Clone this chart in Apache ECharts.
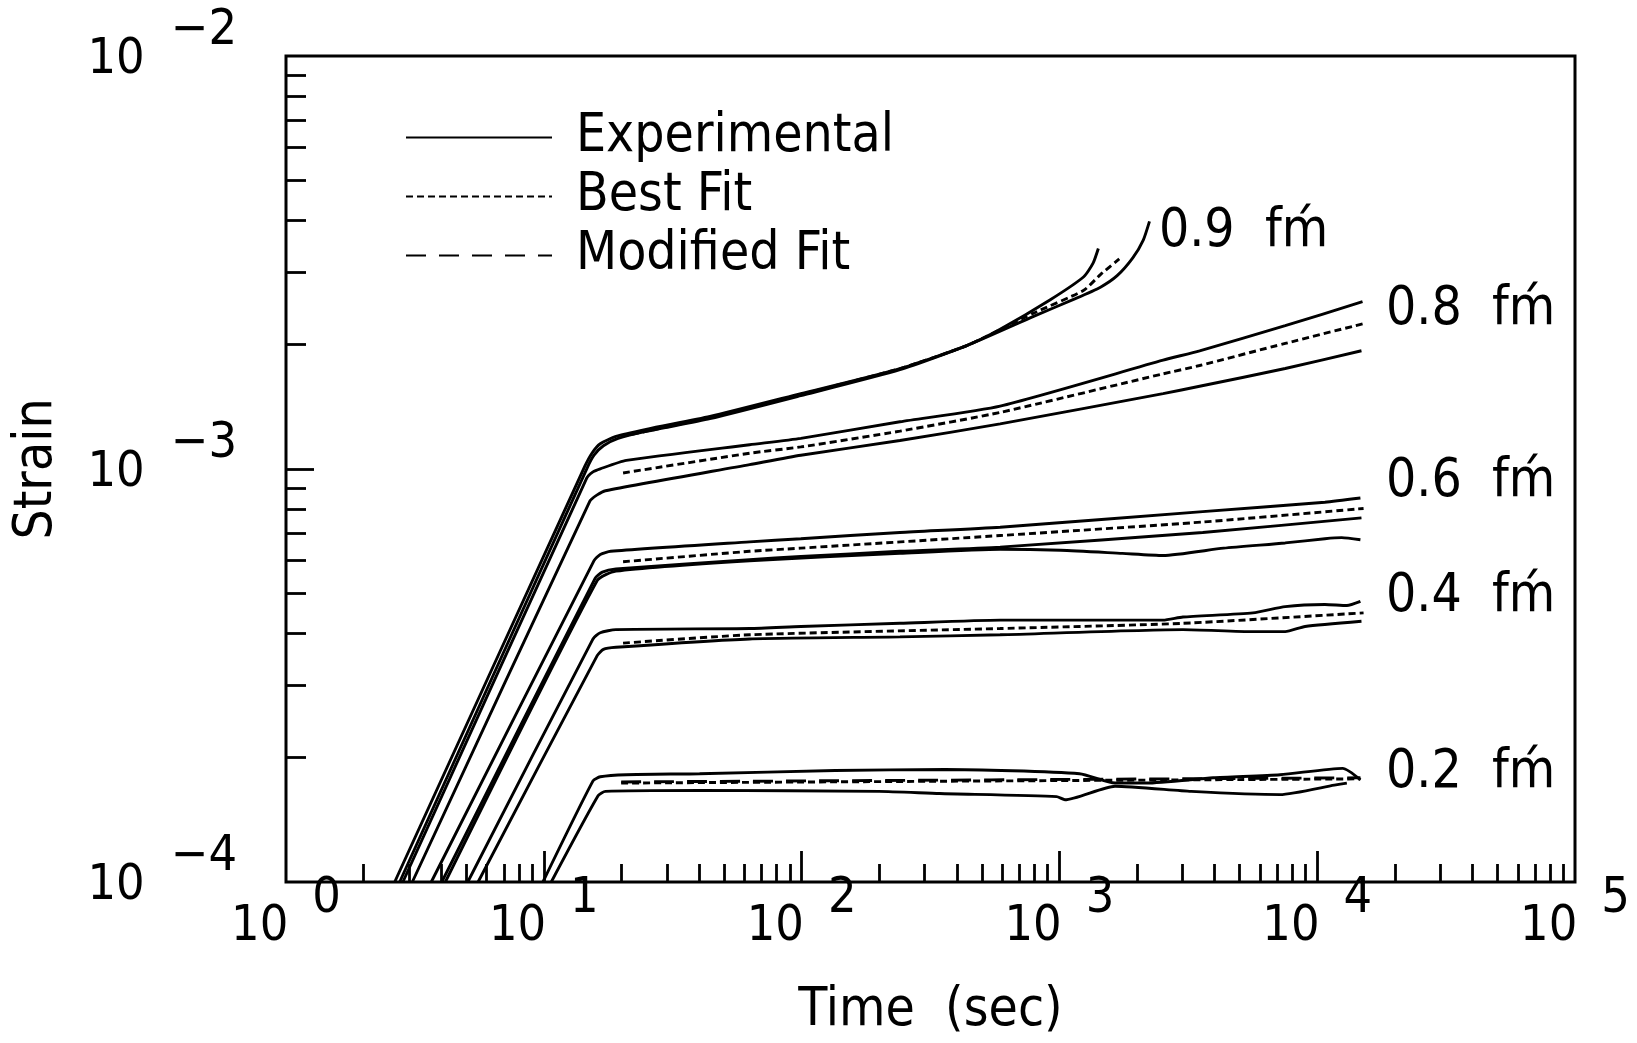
<!DOCTYPE html>
<html>
<head>
<meta charset="utf-8">
<script src="https://cdn.jsdelivr.net/npm/echarts@6/dist/echarts.min.js"></script>
<style>html,body{margin:0;padding:0;background:#fff}#c{width:1637px;height:1043px}</style>
</head>
<body>
<div id="c"></div>
<script>
// ---------------- data (time in s, strain) ----------------
const xLabelValues = [1, 10, 100, 1000, 10000, 100000];
const xLabelExps = ['0', '1', '2', '3', '4', '5'];
const yLabelValues = [0.0001, 0.001, 0.01];
const yLabelExps = ['\u22124', '\u22123', '\u22122'];
const xMajorTicks = [10, 100, 1000, 10000];
const xMinorTicks = [2,3,4,5,6,7,8,9, 20,30,40,50,60,70,80,90, 200,300,400,500,600,700,800,900,
  2000,3000,4000,5000,6000,7000,8000,9000, 20000,30000,40000,50000,60000,70000,80000,90000];
const yMajorTicks = [0.001];
const yMinorTicks = [0.0002,0.0003,0.0004,0.0005,0.0006,0.0007,0.0008,0.0009,
  0.002,0.003,0.004,0.005,0.006,0.007,0.008,0.009];

// 0.9 f'm
const exp09a = [[2.64,1e-4],[14.4,1.013e-3],[15.37,1.092e-3],[16.56,1.151e-3],[19.05,1.199e-3],[25.2,1.249e-3],
  [44.1,1.340e-3],[99.3,1.522e-3],[240.7,1.751e-3],[437,1.990e-3],[794,2.342e-3],[1153,2.585e-3],[1443,2.756e-3],
  [1675,2.938e-3],[1926,3.244e-3],[2115,3.583e-3],[2236,3.978e-3]];
const exp09b = [[2.76,1e-4],[14.81,1.013e-3],[15.66,1.080e-3],[17.03,1.138e-3],[19.41,1.186e-3],[25.2,1.235e-3],
  [44.1,1.324e-3],[99.3,1.505e-3],[240.7,1.740e-3],[437,1.990e-3],[589,2.180e-3],[922,2.570e-3],[1243,2.921e-3],
  [1351,3.151e-3],[1416,3.419e-3]];
const fit09 = [[19.96,1.199e-3],[44.1,1.332e-3],[99.3,1.514e-3],[240.7,1.751e-3],[437,1.990e-3],[794,2.384e-3],
  [1243,2.709e-3],[1443,2.956e-3],[1707,3.226e-3]];
// 0.8 f'm
const exp08a = [[2.84,1e-4],[14.67,9.501e-4],[15.52,9.838e-4],[16.56,1.001e-3],[20.9,1.049e-3],[62.85,1.145e-3],
  [99.3,1.186e-3],[240.7,1.301e-3],[589,1.420e-3],[2525,1.834e-3],[3499,1.933e-3],[7516,2.223e-3],[14990,2.541e-3]];
const fit08 = [[20.3,9.78e-4],[62.85,1.092e-3],[99.3,1.131e-3],[240.7,1.235e-3],[589,1.371e-3],[2525,1.700e-3],
  [3499,1.781e-3],[7516,2.014e-3],[15130,2.249e-3]];
const exp08b = [[3.09,1e-4],[15.09,8.359e-4],[16.11,8.656e-4],[17.35,8.86e-4],[62.85,1.025e-3],[99.3,1.080e-3],
  [240.7,1.172e-3],[589,1.286e-3],[2525,1.522e-3],[3499,1.586e-3],[7516,1.751e-3],[14850,1.933e-3]];
// 0.6 f'm
const exp06a = [[3.66,1e-4],[15.66,5.998e-4],[16.56,6.211e-4],[18.18,6.32e-4],[62.85,6.663e-4],[99.3,6.78e-4],
  [240.7,7.021e-4],[589,7.228e-4],[3598,7.887e-4],[10715,8.31e-4],[14710,8.506e-4]];
const fit06 = [[20.3,5.963e-4],[62.85,6.32e-4],[99.3,6.432e-4],[589,6.9e-4],[3598,7.441e-4],[15130,8.025e-4]];
const exp06b = [[4.02,1e-4],[15.81,5.433e-4],[16.87,5.626e-4],[19.05,5.725e-4],[62.85,6.033e-4],[99.3,6.139e-4],
  [240.7,6.32e-4],[589,6.47e-4],[3598,7.021e-4],[14850,7.616e-4]];
const exp06c = [[4.15,1e-4],[16.11,5.37e-4],[19.05,5.66e-4],[62.85,5.998e-4],[240.7,6.247e-4],[589,6.395e-4],
  [1012,6.357e-4],[1755,6.247e-4],[2525,6.175e-4],[4337,6.432e-4],[7516,6.622e-4],[10715,6.78e-4],[12441,6.82e-4],
  [14710,6.741e-4]];
// 0.4 f'm
const exp04a = [[5.07,1e-4],[15.52,3.877e-4],[16.56,4.014e-4],[19.05,4.085e-4],[62.85,4.109e-4],[99.3,4.157e-4],
  [240.7,4.23e-4],[589,4.305e-4],[2525,4.305e-4],[3014,4.381e-4],[5630,4.484e-4],[7516,4.644e-4],[10715,4.698e-4],
  [13032,4.671e-4],[14710,4.781e-4]];
const fit04 = [[20.3,3.788e-4],[62.85,3.968e-4],[589,4.109e-4],[3014,4.23e-4],[15130,4.484e-4]];
const exp04b = [[5.56,1e-4],[16.11,3.532e-4],[17.03,3.659e-4],[19.05,3.701e-4],[62.85,3.877e-4],[240.7,3.922e-4],
  [589,3.968e-4],[3014,4.085e-4],[5630,4.038e-4],[7516,4.038e-4],[8974,4.157e-4],[14850,4.28e-4]];
// 0.2 f'm
const exp02a = [[9.92,1e-4],[15.52,1.757e-4],[16.56,1.798e-4],[20.9,1.819e-4],[40.2,1.829e-4],[135,1.862e-4],
  [359.5,1.873e-4],[1197,1.829e-4],[1644,1.736e-4],[2175,1.736e-4],[3950,1.788e-4],[7175,1.819e-4],
  [12556,1.884e-4],[14710,1.767e-4]];
const exp02b = [[10.69,1e-4],[16.26,1.619e-4],[17.35,1.657e-4],[40.2,1.667e-4],[199.7,1.657e-4],[343.2,1.638e-4],
  [975,1.61e-4],[1051,1.582e-4],[1644,1.706e-4],[3248,1.657e-4],[7175,1.628e-4],[11652,1.716e-4],[13032,1.736e-4]];
const fit02 = [[19.96,1.736e-4],[14710,1.777e-4]];
const mod02 = [[19.96,1.747e-4],[14710,1.788e-4]];

// curve labels
const labelNames = ['0.9  f\u1E3F', '0.8  f\u1E3F', '0.6  f\u1E3F', '0.4  f\u1E3F', '0.2  f\u1E3F'];
const labelTimes = [2432, 18490, 18490, 18490, 18490];
const labelStrains = [3.748e-3, 2.427e-3, 9.30e-4, 4.90e-4, 1.836e-4];

const experimental = [exp09a, exp09b, exp08a, exp08b, exp06a, exp06b, exp06c, exp04a, exp04b, exp02a, exp02b];
const bestFit = [fit09, fit08, fit06, fit04, fit02];
const modifiedFit = [mod02];

// ---------------- chart ----------------
const FONT = "'DejaVu Sans Condensed','DejaVu Sans',sans-serif";
const FS = 53;   // legend, names, curve labels
const TFS = 50;  // tick labels
function findExp(v, vals, exps) {
  for (let i = 0; i < vals.length; i++) {
    if (Math.abs(Math.log10(v / vals[i])) < 0.01) return exps[i];
  }
  return '';
}
const LW = 2.9;
const series = [];
experimental.forEach(d => series.push({
  type: 'line', name: 'Experimental', data: d, symbol: 'none', smooth: 0.2, silent: true, clip: true,
  itemStyle: { color: '#000' },
  lineStyle: { color: '#000', width: LW, type: 'solid' }, z: 3
}));
bestFit.forEach(d => series.push({
  type: 'line', name: 'Best Fit', data: d, symbol: 'none', smooth: 0.2, silent: true, clip: true,
  itemStyle: { color: '#000' },
  lineStyle: { color: '#000', width: LW, type: [7, 4] }, z: 2
}));
modifiedFit.forEach(d => series.push({
  type: 'line', name: 'Modified Fit', data: d, symbol: 'none', smooth: 0.2, silent: true, clip: true,
  itemStyle: { color: '#000' },
  lineStyle: { color: '#000', width: LW, type: [20, 13] }, z: 2
}));
series.push({
  type: 'scatter', name: 'labels', symbolSize: 0, silent: true,
  itemStyle: { opacity: 1, color: '#000' },
  data: labelNames.map((n, i) => ({ name: n, value: [labelTimes[i], labelStrains[i]] })),
  label: { show: true, position: 'right', distance: 0, formatter: p => p.name, opacity: 1,
    fontFamily: FONT, fontSize: FS, color: '#000' }
});

const tickStyle = { color: '#000', width: 2.8 };
const option = {
  animation: false,
  backgroundColor: '#fff',
  grid: { left: 286, top: 56, width: 1289, height: 826, show: true, borderColor: '#000', borderWidth: 3,
    backgroundColor: 'transparent', containLabel: false, outerBoundsMode: 'none' },
  legend: {
    data: ['Experimental', 'Best Fit', 'Modified Fit'],
    orient: 'vertical', left: 400, top: 106, itemWidth: 146, itemHeight: 14, itemGap: 6,
    selectedMode: false,
    itemStyle: { opacity: 0 },
    textStyle: { fontFamily: FONT, fontSize: FS, lineHeight: 53, color: '#000', padding: [0, 0, 0, 19] }
  },
  xAxis: [{
    type: 'log', logBase: 10, min: 1, max: 100000, position: 'bottom',
    axisLine: { show: false }, splitLine: { show: false },
    axisTick: { show: true, inside: true, length: 31, lineStyle: tickStyle, customValues: xMajorTicks },
    axisLabel: {
      customValues: xLabelValues, margin: 20, color: '#000',
      formatter: v => '{b|10}{e|' + findExp(v, xLabelValues, xLabelExps) + '}',
      rich: {
        b: { fontFamily: FONT, fontSize: TFS, lineHeight: 50, color: '#000' },
        e: { fontFamily: FONT, fontSize: TFS, lineHeight: 50, color: '#000', padding: [0, 0, 56, 24] }
      }
    },
    name: 'Time  (sec)', nameLocation: 'middle', nameGap: 103,
    nameTextStyle: { fontFamily: FONT, fontSize: FS, color: '#000', lineHeight: 53 }
  }, {
    type: 'log', logBase: 10, min: 1, max: 100000, position: 'bottom', offset: 0,
    axisLine: { show: false }, splitLine: { show: false }, axisLabel: { show: false },
    axisTick: { show: true, inside: true, length: 18, lineStyle: tickStyle, customValues: xMinorTicks }
  }],
  yAxis: [{
    type: 'log', logBase: 10, min: 0.0001, max: 0.01, position: 'left',
    axisLine: { show: false }, splitLine: { show: false },
    axisTick: { show: true, inside: true, length: 28, lineStyle: tickStyle, customValues: yMajorTicks },
    axisLabel: {
      customValues: yLabelValues, margin: 49, color: '#000',
      formatter: v => '{b|10}{e|' + findExp(v, yLabelValues, yLabelExps) + '}',
      rich: {
        b: { fontFamily: FONT, fontSize: TFS, lineHeight: 50, color: '#000', padding: [8, 0, 0, 0] },
        e: { fontFamily: FONT, fontSize: TFS, lineHeight: 50, color: '#000', padding: [0, 0, 50, 26] }
      }
    },
    name: 'Strain', nameLocation: 'middle', nameGap: 222, nameRotate: 90,
    nameTextStyle: { fontFamily: FONT, fontSize: FS, color: '#000', lineHeight: 53 }
  }, {
    type: 'log', logBase: 10, min: 0.0001, max: 0.01, position: 'left', offset: 0,
    axisLine: { show: false }, splitLine: { show: false }, axisLabel: { show: false },
    axisTick: { show: true, inside: true, length: 20, lineStyle: tickStyle, customValues: yMinorTicks }
  }],
  series: series
};
const chart = echarts.init(document.getElementById('c'), null, { renderer: 'canvas' });
chart.setOption(option);
</script>
</body>
</html>
